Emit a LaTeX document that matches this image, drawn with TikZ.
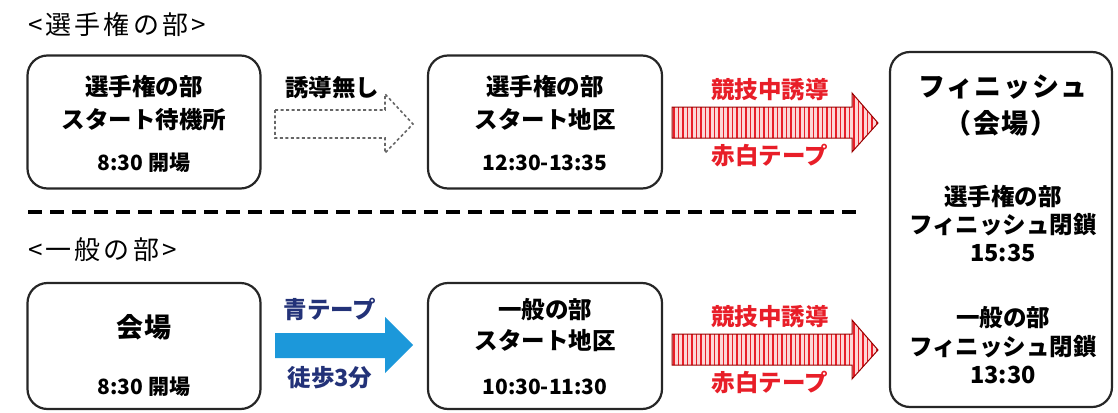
\documentclass[tikz,border=0pt]{standalone}
\usepackage{fontspec}
\setmainfont{Noto Sans CJK JP}
\definecolor{tapered}{RGB}{232,30,40}
\definecolor{tapepink}{RGB}{252,215,215}
\definecolor{navytext}{RGB}{35,50,120}
\definecolor{bluefill}{RGB}{28,152,218}
\begin{document}
\begin{tikzpicture}[x=1pt,y=-1pt,font=\bfseries]
\useasboundingbox (0,0) rectangle (1118,412);
\tikzset{
  box/.style={draw=black!85, line width=2.2pt, rounded corners=20pt, inner sep=0pt},
  txt/.style={inner sep=0pt, font=\fontsize{23.5}{26}\selectfont\bfseries},
  small/.style={inner sep=0pt, font=\fontsize{21}{24}\selectfont\bfseries},
  big/.style={inner sep=0pt, font=\fontsize{27}{30}\selectfont\bfseries\addfontfeature{LetterSpace=6}},
  head/.style={inner sep=0pt, anchor=west, font=\fontsize{26}{29}\selectfont\addfontfeature{LetterSpace=12}},
  redlbl/.style={txt, text=tapered},
  bluelbl/.style={txt, text=navytext},
}
% headings
\node[head] (h1) at (28,25) {<選手権の部>};
\node[head] (h2) at (28,250) {<一般の部>};
% divider
\coordinate (dL) at (28,212);
\coordinate (dR) at (862,212);
\draw[line width=4pt, dash pattern=on 14pt off 8pt] (dL) -- (dR);
% boxes
\node[box, minimum width=233pt, minimum height=133pt] (b1) at (144,122) {};
\node[box, minimum width=234pt, minimum height=133pt] (b2) at (545,122) {};
\node[box, minimum width=233pt, minimum height=126pt] (b4) at (144,346) {};
\node[box, minimum width=234pt, minimum height=126pt] (b5) at (545,346) {};
\node[box, minimum width=222pt, minimum height=355pt] (fin) at (1001,229.5) {};
% box texts
\node[txt] at (144,87) {選手権の部};
\node[txt] at (144,120) {スタート待機所};
\node[small] at (144,163) {8:30 開場};
\node[txt] at (545,87) {選手権の部};
\node[txt] at (545,120) {スタート地区};
\node[small] at (545,163) {12:30-13:35};
\node[big] at (144,327) {会場};
\node[small] at (144,387) {8:30 開場};
\node[txt] at (545,310) {一般の部};
\node[txt] at (545,341) {スタート地区};
\node[small] at (545,387) {10:30-11:30};
\node[big] at (1003,87) {フィニッシュ};
\node[big] at (1001,123) {（会場）};
\node[txt] at (1003,197) {選手権の部};
\node[txt] at (1003,225) {フィニッシュ閉鎖};
\node[txt] at (1003,253) {15:35};
\node[txt] at (1003,318) {一般の部};
\node[txt] at (1003,347) {フィニッシュ閉鎖};
\node[txt] at (1003,375) {13:30};
% dotted arrow
\draw[gray!80!black, line width=1.6pt, dash pattern=on 3pt off 2.5pt]
  (275,110) -- (385,110) -- (385,94) -- (413,124) -- (385,153) -- (385,138) -- (275,138) -- cycle;
\node[txt] at (332,88) {誘導無し};
% blue arrow
\fill[bluefill] (275,333) -- (385,333) -- (385,317) -- (413,345) -- (385,373) -- (385,358) -- (275,358) -- cycle;
\node[bluelbl] at (330,309) {青テープ};
\node[bluelbl] at (330,378) {徒歩3分};
% red striped arrows
\foreach \dy in {0,227}{
  \begin{scope}[yshift=-\dy pt]
    \path[fill=tapepink] (672,107) -- (852,107) -- (852,93) -- (878,123) -- (852,152) -- (852,138) -- (672,138) -- cycle;
    \begin{scope}
      \clip (672,107) -- (852,107) -- (852,93) -- (878,123) -- (852,152) -- (852,138) -- (672,138) -- cycle;
      \foreach \x in {674,678.5,...,880}{
        \draw[tapered, line width=1.5pt] (\x,90) -- (\x,155);
      }
    \end{scope}
    \draw[red!60!black, line width=1pt] (672,107) -- (852,107) -- (852,93) -- (878,123) -- (852,152) -- (852,138) -- (672,138) -- cycle;
    \node[redlbl] at (770,90) {競技中誘導};
    \node[redlbl] at (770,156) {赤白テープ};
  \end{scope}
}
\end{tikzpicture}
\end{document}
